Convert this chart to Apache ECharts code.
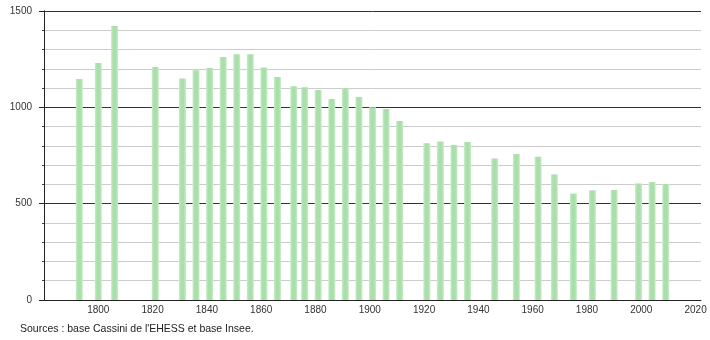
<!DOCTYPE html>
<html>
<head>
<meta charset="utf-8">
<script src="https://cdn.jsdelivr.net/npm/echarts@6/dist/echarts.min.js"></script>
<style>
html,body{margin:0;padding:0;background:#fff;}
#c{width:710px;height:340px;}
</style>
</head>
<body>
<div id="c"></div>
<script>
const years = [1793,1800,1806,1821,1831,1836,1841,1846,1851,1856,1861,1866,1872,1876,1881,1886,1891,1896,1901,1906,1911,1921,1926,1931,1936,1946,1954,1962,1968,1975,1982,1990,1999,2004,2009];
const population = [1147,1230,1422,1209,1150,1193,1204,1261,1276,1276,1207,1157,1110,1104,1090,1043,1099,1053,1000,991,929,813,823,804,820,735,758,744,652,552,569,571,605,612,602];
const xTickLabels = [1800,1820,1840,1860,1880,1900,1920,1940,1960,1980,2000,2020];
const yTickLabels = [0,500,1000,1500];
const sourceText = "Sources : base Cassini de l'EHESS et base Insee.";

const font = '"Liberation Sans", Arial, sans-serif';
const chart = echarts.init(document.getElementById('c'), null, {renderer:'canvas'});
const barColor = new echarts.graphic.LinearGradient(0,0,1,0,[
  {offset:0,color:'#cdeccd'},
  {offset:0.3,color:'#a9dfa9'},
  {offset:0.7,color:'#a9dfa9'},
  {offset:1,color:'#cdeccd'}
]);
chart.setOption({
  animation:false,
  grid:{left:44,right:9,top:11,bottom:40},
  xAxis:{
    type:'value', min:1780, max:2022, interval:20,
    axisLine:{show:true,lineStyle:{color:'#222',width:1}},
    axisTick:{show:false},
    splitLine:{show:false},
    axisLabel:{
      margin:5, color:'#333', fontFamily:font, fontSize:10,
      formatter:v => xTickLabels.indexOf(v) >= 0 ? String(v) : ''
    }
  },
  yAxis:[{
    type:'value', min:0, max:1500, interval:100,
    axisLine:{show:true,lineStyle:{color:'#222'}},
    axisTick:{show:true,length:2,lineStyle:{color:'#444'}},
    splitLine:{show:true,lineStyle:{color:['#333','#cccccc','#cccccc','#cccccc','#cccccc'],width:1}},
    axisLabel:{
      margin:12, color:'#333', fontFamily:font, fontSize:10,
      formatter:v => yTickLabels.indexOf(v) >= 0 ? String(v) : ''
    }
  },{
    type:'value', min:0, max:1500, interval:500, position:'left',
    axisLine:{show:true,lineStyle:{color:'#222'}},
    axisTick:{show:true,length:5,lineStyle:{color:'#222'}},
    splitLine:{show:false},
    axisLabel:{show:false}
  }],
  series:[{
    type:'bar', barWidth:7, yAxisIndex:0,
    itemStyle:{color:barColor},
    data: years.map((y,i)=>[y,population[i]])
  }],
  graphic:[{
    type:'text', left:20, top:324,
    style:{text:sourceText, fill:'#222', font:'10.5px ' + font}
  }]
});
</script>
</body>
</html>
